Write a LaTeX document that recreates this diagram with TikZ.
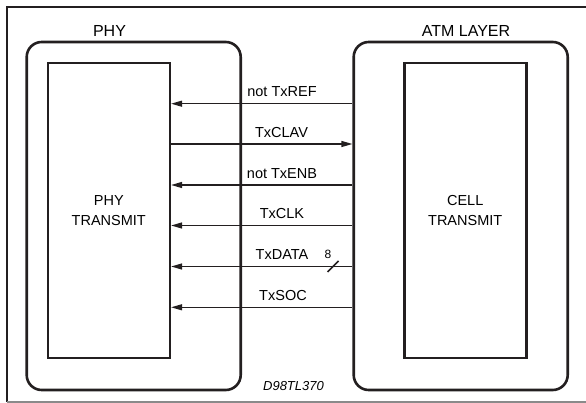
\documentclass[tikz,border=0pt]{standalone}
\usepackage{fontspec}
\setmainfont{Liberation Sans}
\usepackage{xcolor}
\definecolor{colLine}{HTML}{231F20}
\definecolor{colRule}{HTML}{8A8A8A}
\usepackage{tikz}
\usetikzlibrary{arrows.meta, positioning, calc}

\tikzset{
  chip/.style={draw=colLine, line width=2.6pt, rounded corners=15pt, minimum width=214pt, minimum height=348pt, inner sep=0pt},
  blockbox/.style={draw=colLine, line width=2.6pt, minimum width=122pt, minimum height=295pt, align=center, font=\fontsize{14.5}{20}\selectfont, inner sep=0pt},
  sig/.style={draw=colLine, line width=1.3pt},
  tip/.style={-{Triangle[length=11pt, width=6pt]}},
  lbl/.style={font=\fontsize{14.5}{17}\selectfont, inner sep=0pt},
  head/.style={font=\fontsize{16}{19}\selectfont, inner sep=0pt}
}

\begin{document}
\begin{tikzpicture}[x=1pt, y=-1pt]
        \useasboundingbox (0,0) rectangle (586,403);
        % Frame
        \draw[colLine, line width=2.2pt] (7,402) -- (7,7) -- (590,7);
        \draw[colRule, line width=1.3pt] (7,402) -- (590,402);
        % Blocks
        \node[chip] (phy) at (133.7,216) {};
        \node[chip] (atm) at (460.7,216) {};
        \node[blockbox] (phytx) at (108.8,210.4) {PHY\\TRANSMIT};
        \node[blockbox] (celltx) at (465.2,210.4) {CELL\\TRANSMIT};
        % Block titles
        \node[head] (phyname) at (109.5,31) {PHY};
        \node[head] (atmname) at (466,31) {ATM LAYER};
        % Signal rows
        \coordinate (s1) at (0,103.7);
        \coordinate (s2) at (0,144);
        \coordinate (s3) at (0,185);
        \coordinate (s4) at (0,225.5);
        \coordinate (s5) at (0,266.5);
        \coordinate (s6) at (0,307.3);
        % Signals
        \draw[sig, tip] (atm.west |- s1) -- (phytx.east |- s1);
        \draw[sig, tip] (phytx.east |- s2) -- (atm.west |- s2);
        \draw[sig, tip] (atm.west |- s3) -- (phytx.east |- s3);
        \draw[sig, tip] (atm.west |- s4) -- (phytx.east |- s4);
        \draw[sig, tip] (atm.west |- s5) -- (phytx.east |- s5);
        \draw[sig, tip] (atm.west |- s6) -- (phytx.east |- s6);
        % Signal labels
        \node[lbl] (ref) at (282,92) {not TxREF};
        \node[lbl] (clav) at (281.5,132.5) {TxCLAV};
        \node[lbl] (enb) at (282,173.5) {not TxENB};
        \node[lbl] (clk) at (282,214) {TxCLK};
        \node[lbl] (data) at (282,254.5) {TxDATA};
        \node[lbl] (soc) at (283,295.5) {TxSOC};
        % Bus width
        \node[font=\fontsize{12}{14}\selectfont, inner sep=0pt] (buswidth) at (328,254) {8};
        \draw[colLine, line width=1.5pt] (327.5,272) -- (338.5,261);
        % Drawing number
        \node[font=\fontsize{13}{15}\selectfont\itshape, inner sep=0pt] (drawno) at (293.5,386) {D98TL370};
    \end{tikzpicture}
\end{document}
